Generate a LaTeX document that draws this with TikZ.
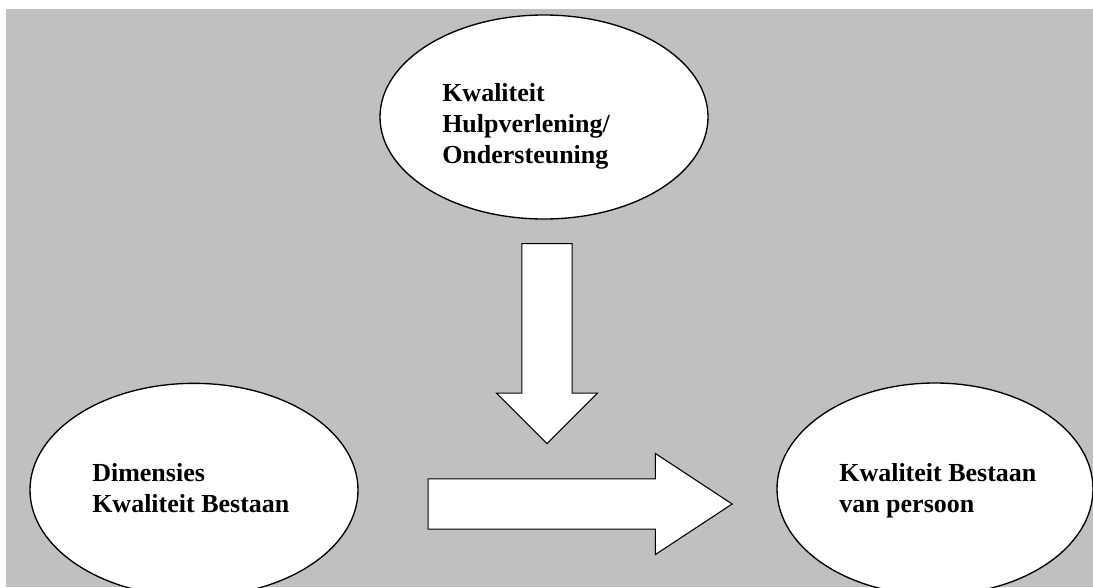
\documentclass[tikz,border=0pt]{standalone}
\usepackage{fontspec}
\setmainfont{Liberation Serif}
\usetikzlibrary{shapes.geometric,shapes.arrows}
\definecolor{panelgray}{RGB}{192,192,192}
\tikzset{
  bubble/.style={ellipse,draw=black,fill=white,line width=1pt,inner sep=0pt},
  bubbletext/.style={align=left,anchor=base west,inner sep=0pt,
    font=\fontsize{19.5}{23}\selectfont\bfseries},
  blockarrow/.style={single arrow,draw=black,fill=white,line width=0.8pt,
    inner sep=18.5pt,single arrow head extend=19pt,single arrow head indent=0pt}
}
\begin{document}
\begin{tikzpicture}[x=0.75pt,y=-0.75pt]
    \useasboundingbox (0,0) rectangle (1093,587);
    \fill[panelgray] (6,9) rectangle (1093,587);
    % ellipses
    \node[bubble,minimum width=246pt,minimum height=153pt] (hulp) at (544,117) {};
    \node[bubble,minimum width=246pt,minimum height=160pt] (dimensies) at (194,490) {};
    \node[bubble,minimum width=237pt,minimum height=159pt] (persoon) at (935,489) {};
    % block arrows
    \node[blockarrow,rotate=-90,minimum height=150pt,single arrow tip angle=90] (pijlneer) at (547,331) {};
    \node[blockarrow,minimum height=228pt,single arrow tip angle=66.7] (pijlrechts) at (561,504) {};
    % texts (anchor sits on the last line)
    \node[bubbletext] (hulptekst) at (442,163) {Kwaliteit\\Hulpverlening/\\Ondersteuning};
    \node[bubbletext] (dimtekst) at (92,512) {Dimensies\\Kwaliteit Bestaan};
    \node[bubbletext] (perstekst) at (839,512) {Kwaliteit Bestaan\\van persoon};
\end{tikzpicture}
\end{document}
